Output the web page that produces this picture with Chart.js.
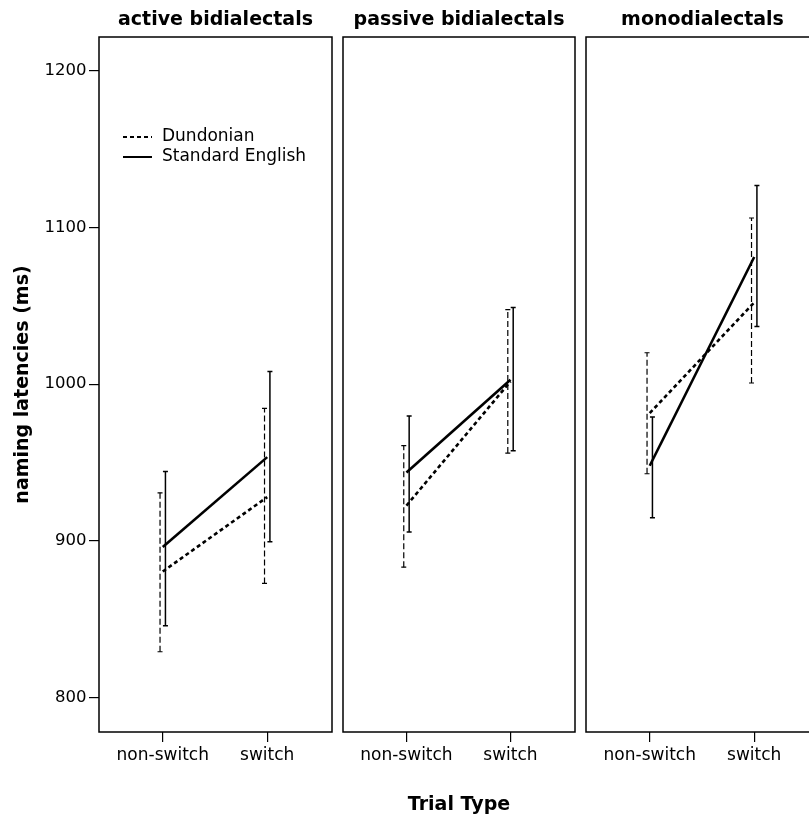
<!DOCTYPE html>
<html>
<head>
<meta charset="utf-8">
<script src="https://cdn.jsdelivr.net/npm/chart.js@4.4.0/dist/chart.umd.min.js"></script>
<style>
  html, body { margin: 0; padding: 0; background: #fff; overflow: hidden; }
  body { width: 809px; height: 818px; position: relative; }
  canvas { position: absolute; top: 0; }
</style>
</head>
<body>
<canvas id="panel0" width="338" height="818" style="left:0px"></canvas>
<canvas id="panel1" width="244" height="818" style="left:337px"></canvas>
<canvas id="panel2" width="245" height="818" style="left:580px"></canvas>
<script>
// groups (panels) and trial types (x categories)
const groups = ["active bidialectals", "passive bidialectals", "monodialectals"];
const trialTypes = ["non-switch", "switch"];
const seriesNames = ["Dundonian", "Standard English"];

// means per group: [non-switch, switch]
const dundonianMean = [[880.4, 927.9], [922.5, 1001.7], [981.5, 1052.1]];
const standardMean  = [[896.0, 953.4], [943.6, 1002.8], [947.9, 1081.1]];

// error bar limits
const dundonianLow  = [[829.2, 872.8], [883.2, 956.0], [942.8, 1000.7]];
const dundonianHigh = [[930.6, 984.5], [960.8, 1047.5], [1020.0, 1106.0]];
const standardLow   = [[845.8, 899.4], [905.7, 957.5], [914.7, 1036.8]];
const standardHigh  = [[944.2, 1008.1], [979.6, 1048.9], [979.0, 1126.8]];

const yTicks = [800, 900, 1000, 1100, 1200];

Chart.defaults.font.family = '"DejaVu Sans", sans-serif';
Chart.defaults.color = "#000";

// error bars + panel frame
const errorBars = {
    id: "errorBars",
    beforeDatasetsDraw(chart) {
        const ctx = chart.ctx;
        const xs = chart.scales.x, ys = chart.scales.y;
        chart.data.datasets.forEach((ds) => {
            ctx.save();
            ctx.strokeStyle = "#000";
            ctx.lineWidth = ds.barWidth;
            ds.low.forEach((lo, i) => {
                const x = xs.getPixelForValue(i) + ds.barOffset;
                const y1 = ys.getPixelForValue(lo);
                const y2 = ys.getPixelForValue(ds.high[i]);
                ctx.setLineDash(ds.barDash);
                ctx.beginPath();
                ctx.moveTo(x, y1);
                ctx.lineTo(x, y2);
                ctx.stroke();
                ctx.setLineDash([]);
                ctx.beginPath();
                ctx.moveTo(x - 2.5, y1); ctx.lineTo(x + 2.5, y1);
                ctx.moveTo(x - 2.5, y2); ctx.lineTo(x + 2.5, y2);
                ctx.stroke();
            });
            ctx.restore();
        });
    },
    afterDraw(chart) {
        const { left, top, width, height } = chart.chartArea;
        const ctx = chart.ctx;
        ctx.save();
        ctx.strokeStyle = "#000";
        ctx.lineWidth = 1.5;
        ctx.strokeRect(left, top, width, height);
        ctx.restore();
    },
};

// legend inside the first panel
const innerLegend = {
    id: "innerLegend",
    afterDraw(chart) {
        const ctx = chart.ctx;
        const { left, top } = chart.chartArea;
        chart.data.datasets.forEach((ds, i) => {
            const y = top + 100 + i * 20;
            ctx.save();
            ctx.strokeStyle = "#000";
            ctx.lineWidth = 2;
            ctx.setLineDash(ds.borderDash || []);
            ctx.beginPath();
            ctx.moveTo(left + 24, y);
            ctx.lineTo(left + 53, y);
            ctx.stroke();
            ctx.setLineDash([]);
            ctx.fillStyle = "#000";
            ctx.font = '17px "DejaVu Sans"';
            ctx.textBaseline = "middle";
            ctx.fillText(ds.label, left + 63, y);
            ctx.restore();
        });
    },
};

function makePanel(p) {
    const first = p === 0;
    const toPoints = (arr) => arr[p].map((v, i) => ({ x: i, y: v }));
    return new Chart(document.getElementById("panel" + p), {
        type: "line",
        data: {
            datasets: [
                {
                    label: seriesNames[0],
                    data: toPoints(dundonianMean),
                    low: dundonianLow[p],
                    high: dundonianHigh[p],
                    barOffset: -2.7,
                    barDash: [6, 3],
                    barWidth: 1.2,
                    borderColor: "#000",
                    borderWidth: 2.6,
                    borderDash: [4, 3],
                    pointRadius: 0,
                },
                {
                    label: seriesNames[1],
                    data: toPoints(standardMean),
                    low: standardLow[p],
                    high: standardHigh[p],
                    barOffset: 2.7,
                    barDash: [],
                    barWidth: 1.5,
                    borderColor: "#000",
                    borderWidth: 2.6,
                    pointRadius: 0,
                },
            ],
        },
        options: {
            responsive: false,
            animation: false,
            devicePixelRatio: 1,
            layout: { padding: { left: first ? 0 : 6, right: 6, top: 0, bottom: 0 } },
            plugins: {
                legend: { display: false },
                tooltip: { enabled: false },
                title: {
                    display: true,
                    text: groups[p],
                    fullSize: false,
                    font: { size: 19, weight: "bold" },
                    padding: { top: 8.6, bottom: 5.6 },
                },
            },
            scales: {
                x: {
                    type: "linear",
                    min: -0.61,
                    max: 1.62,
                    afterFit: (s) => { s.height = 86; },
                    afterBuildTicks: (s) => { s.ticks = trialTypes.map((t, i) => ({ value: i })); },
                    ticks: {
                        callback: (v) => trialTypes[v],
                        font: { size: 17 },
                        padding: 3,
                        maxRotation: 0,
                        autoSkip: false,
                    },
                    grid: { drawOnChartArea: false, tickLength: 10, color: "#000", lineWidth: 1.2 },
                    border: { display: false },
                    title: {
                        display: p === 1,
                        text: "Trial Type",
                        font: { size: 19, weight: "bold" },
                        padding: { top: 4, bottom: 1.6 },
                    },
                },
                y: {
                    type: "linear",
                    min: 778,
                    max: 1221.5,
                    display: first,
                    afterFit: (s) => { s.width = first ? 99 : 0; },
                    afterBuildTicks: (s) => { s.ticks = yTicks.map((v) => ({ value: v })); },
                    ticks: { font: { size: 16.5 }, padding: 2.5, callback: (v) => String(v) },
                    grid: { drawOnChartArea: false, tickLength: 10, color: "#000", lineWidth: 1.2 },
                    border: { display: false },
                    title: {
                        display: true,
                        text: "naming latencies (ms)",
                        font: { size: 19, weight: "bold" },
                        padding: { top: 11.6, bottom: 0 },
                    },
                },
            },
        },
        plugins: first ? [errorBars, innerLegend] : [errorBars],
    });
}

groups.forEach((g, p) => makePanel(p));
</script>
</body>
</html>
